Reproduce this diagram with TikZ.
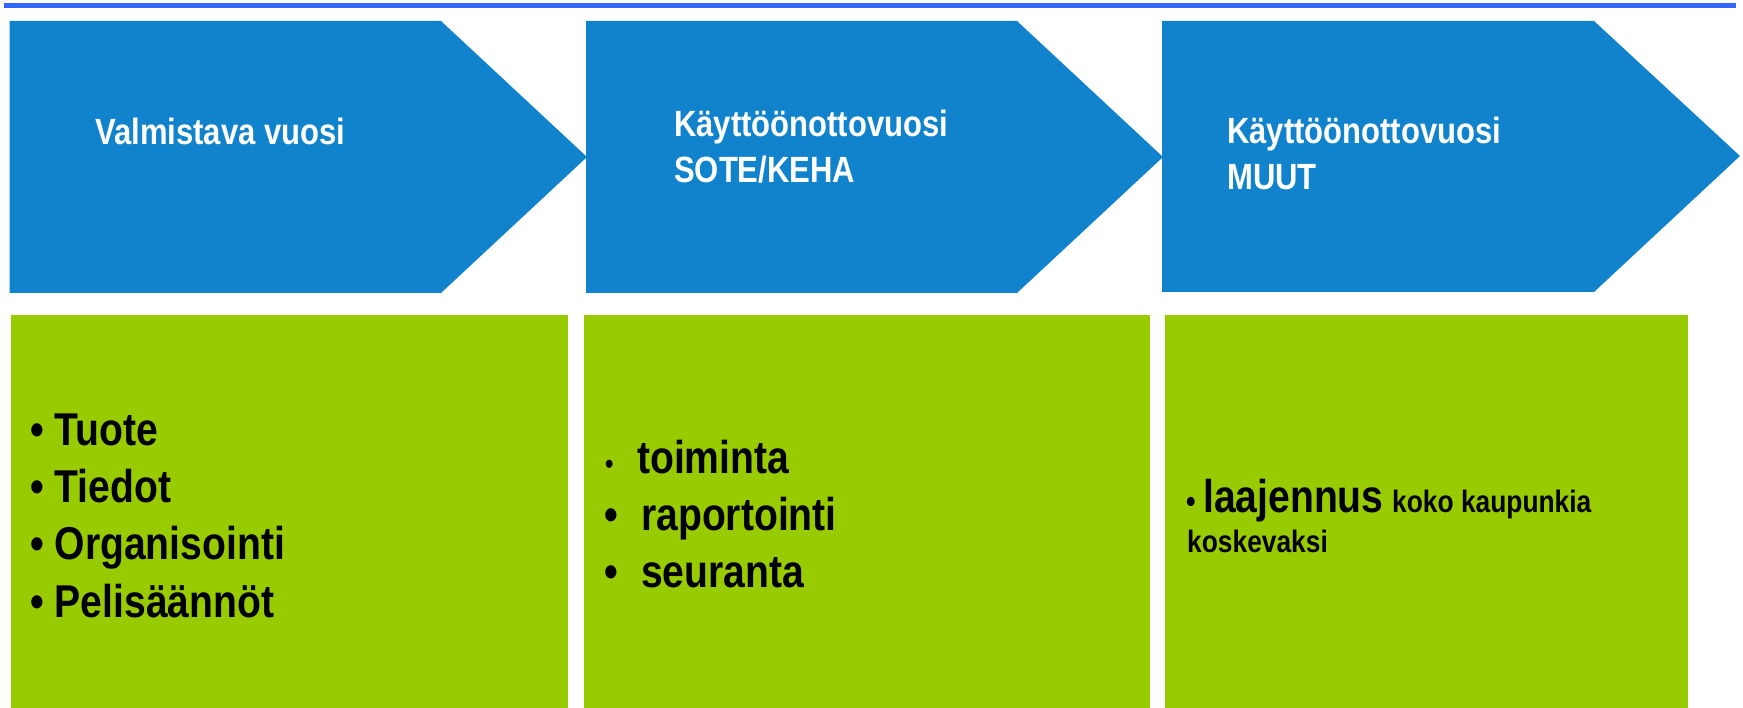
\documentclass[tikz,border=0pt]{standalone}
\usepackage{fontspec}
\setmainfont{Liberation Sans}[FakeStretch=0.85]
\usepackage{tikz}
\definecolor{arrowblue}{HTML}{1083CC}
\definecolor{boxgreen}{HTML}{99CC00}
\definecolor{lineblue}{HTML}{3366FF}

\begin{document}
\begin{tikzpicture}[x=1pt,y=-1pt,
head/.style={text=white,font=\bfseries\fontsize{36.5}{43}\selectfont,inner sep=0,anchor=base west},
item/.style={font=\bfseries\fontsize{46}{55}\selectfont,inner sep=0,anchor=base west},
small/.style={font=\bfseries\fontsize{31}{36}\selectfont,inner sep=0,anchor=base west}]
\useasboundingbox (0,0) rectangle (1743,708);
\draw [lineblue,line width=5pt](4,6) --(1736,6);

% arrows
\fill [arrowblue](9.5,21) --(441,21) --(587,157) --(441,293) --(9.5,293) --cycle;
\fill [arrowblue](586,21) --(1017,21) --(1163,157) --(1017,293) --(586,293) --cycle;
\fill [arrowblue](1162,21) --(1594,21) --(1740,156) --(1594,292) --(1162,292) --cycle;

% boxes
\fill [boxgreen](10.5,315) rectangle (568,708);
\fill [boxgreen](584,315) rectangle (1150,708);
\fill [boxgreen](1165,315) rectangle (1688,708);

\path
(95,145) node [head](v1) {Valmistava vuosi}
(674,137) node [head](k1) {Käyttöönottovuosi}
(674,183) node [head](k2) {SOTE/KEHA}
(1227,144) node [head](m1) {Käyttöönottovuosi}
(1227,190) node [head](m2) {MUUT};

\path
(30,445) node [item](t1) {• Tuote}
(30,502) node [item](t2) {• Tiedot}
(30,559) node [item](t3) {• Organisointi}
(30,617) node [item](t4) {• Pelisäännöt};

\path
(605,473) node [item,font=\bfseries\fontsize{28}{34}\selectfont](b1) {•}
(637,473) node [item](s1) {toiminta}
(604,530) node [item](b2) {•}
(641,530) node [item](s2) {raportointi}
(604,587) node [item](b3) {•}
(641,587) node [item](s3) {seuranta};

\path
(1186,512) node [item,font=\bfseries\fontsize{32}{38}\selectfont](b4) {•}
(1203,512) node [item](l1) {laajennus}
(1392,512) node [small](l2) {koko kaupunkia}
(1187,552) node [small](l3) {koskevaksi};
\end{tikzpicture}
\end{document}
